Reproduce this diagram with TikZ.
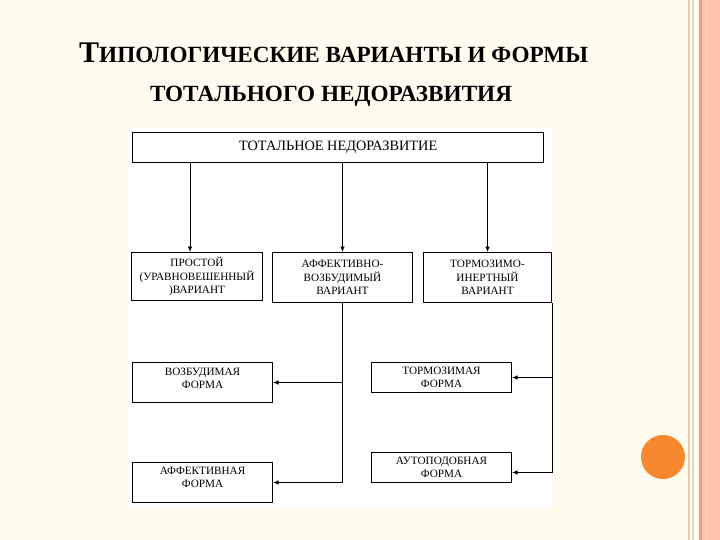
\documentclass[tikz,border=0pt]{standalone}
\usepackage{fontspec}
\setmainfont{Liberation Serif}
\usetikzlibrary{arrows.meta,calc}
\definecolor{cream}{HTML}{FFFBEE}
\definecolor{orangedot}{HTML}{F7882F}
\definecolor{stripeA}{HTML}{E3CFBC}
\definecolor{stripeB}{HTML}{EBD3C2}
\definecolor{stripeC}{HTML}{EE9E80}
\definecolor{stripeD}{HTML}{FEC3AE}
\definecolor{stripeE}{HTML}{FFCDBA}
\begin{document}
\begin{tikzpicture}[x=1pt,y=-1pt,
  box/.style={draw=black,line width=1pt,fill=white,anchor=north west,inner sep=1pt,
    align=center,font=\fontsize{11.2}{13.3}\selectfont},
  arr/.style={draw=black,line width=0.8pt,-{Latex[length=5.5pt,width=4.5pt]}},
  ln/.style={draw=black,line width=0.8pt}]
\useasboundingbox (0,0) rectangle (720,540);
\fill[cream] (0,0) rectangle (720,540);
\fill[white] (127,128) rectangle (552,508);
% right stripes
\fill[stripeA] (687.5,0) rectangle (689.5,540);
\fill[stripeB] (692,0) rectangle (694,540);
\fill[stripeD] (702,0) rectangle (720,540);
\fill[stripeC] (699,0) rectangle (702,540);
\fill[stripeE] (706,0) rectangle (708,540);
\fill[orangedot] (663,457) circle (22);
% title
\node[anchor=base west,inner sep=0pt,font=\bfseries] (t1) at (79,63)
  {{\fontsize{30}{30}\selectfont Т}{\fontsize{23.2}{23.2}\selectfont ИПОЛОГИЧЕСКИЕ ВАРИАНТЫ И ФОРМЫ}};
\node[anchor=base,inner sep=0pt,font=\bfseries\fontsize{23.2}{23.2}\selectfont] (t2) at (331,102)
  {ТОТАЛЬНОГО НЕДОРАЗВИТИЯ};
% boxes
\node[box,line width=1.4pt,minimum width=411pt,minimum height=30pt,font=\fontsize{14.3}{16}\selectfont] (top) at (132,132) {ТОТАЛЬНОЕ НЕДОРАЗВИТИЕ};
\node[box,minimum width=131pt,minimum height=48pt] (v1) at (131,252) {ПРОСТОЙ\\(УРАВНОВЕШЕННЫЙ\\)ВАРИАНТ};
\node[box,minimum width=140pt,minimum height=50pt] (v2) at (272,252) {АФФЕКТИВНО-\\ВОЗБУДИМЫЙ\\ВАРИАНТ};
\node[box,minimum width=128pt,minimum height=50pt] (v3) at (423,252) {ТОРМОЗИМО-\\ИНЕРТНЫЙ\\ВАРИАНТ};
\node[box,minimum width=140pt,minimum height=40pt,text depth=8pt] (f1) at (132,362) {ВОЗБУДИМАЯ\\ФОРМА};
\node[box,minimum width=140pt,minimum height=40pt,text depth=11pt] (f2) at (132,462) {АФФЕКТИВНАЯ\\ФОРМА};
\node[box,minimum width=140pt,minimum height=30pt] (f3) at (371,362) {ТОРМОЗИМАЯ\\ФОРМА};
\node[box,minimum width=140pt,minimum height=30pt] (f4) at (371,452) {АУТОПОДОБНАЯ\\ФОРМА};
% connectors
\draw[arr] ([xshift=-7pt]v1.north |- top.south) -- ([xshift=-7pt]v1.north);
\draw[arr] (v2.north |- top.south) -- (v2.north);
\draw[arr] (v3.north |- top.south) -- (v3.north);
\draw[arr,line width=1.3pt] (v2.south) |- (f2.east);
\draw[arr] (v2.south |- f1.east) -- (f1.east);
\draw[arr] (v3.south east) |- ([yshift=-5pt]f4.east);
\draw[arr] (v3.south east |- f3.east) -- (f3.east);
\end{tikzpicture}
\end{document}
